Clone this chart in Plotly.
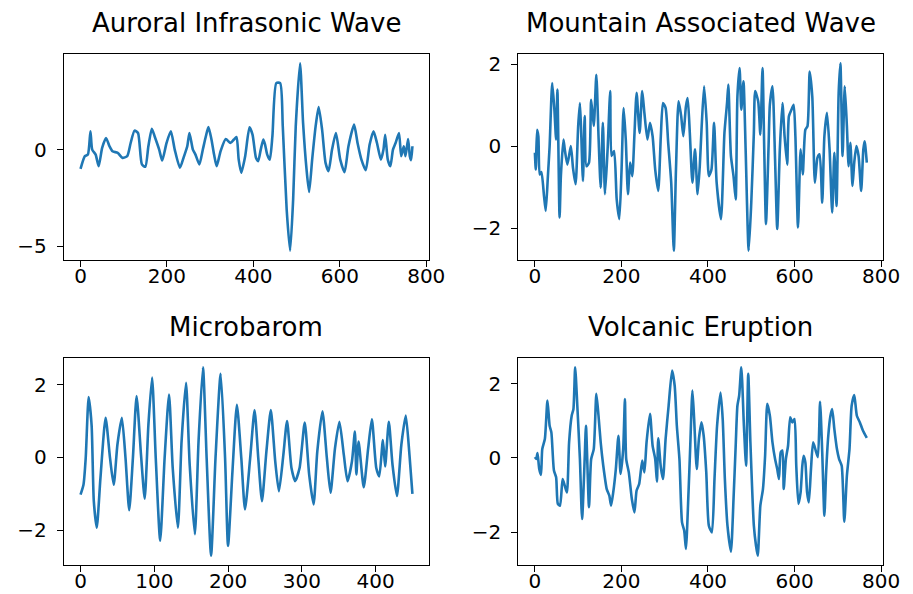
import plotly.graph_objects as go

# ---------------------------------------------------------------------------
# data (sample index, amplitude)

auroral_x = [0, 10, 17, 23, 27, 35, 42, 50, 59, 67, 74, 86, 97, 108, 116, 125, 133, 142, 150, 157,
             165, 172, 182, 189, 199, 209, 218, 230, 239, 247, 252, 260, 266, 275, 283, 290, 296,
             303, 309, 315, 324, 336, 347, 355, 361, 366, 372, 381, 391, 398, 406, 411, 417, 423,
             427, 432, 438, 444, 453, 462, 468, 477, 485, 492, 498, 508, 515, 523, 529, 536, 544,
             551, 559, 567, 574, 582, 591, 601, 611, 620, 633, 641, 650, 660, 669, 678, 686, 695,
             701, 705, 711, 717, 723, 729, 737, 742, 748, 752, 758, 762, 765, 768]
auroral_y = [-1.0, -0.34, -0.26, 0.95, 0.0, -0.26, -0.86, 0.09, 0.6, 0.17, -0.09, -0.17, -0.43,
             -0.34, 0.34, 0.98, 0.86, -0.77, -0.89, 0.17, 1.08, 0.65, 0.0, -0.57, 0.34, 0.95, 0.0,
             -0.94, -0.38, 0.17, 0.86, 0.0, -0.26, -0.77, 0.0, 0.69, 1.17, 0.52, -0.26, -0.86, -0.09,
             0.55, 0.34, 0.52, 0.65, -0.52, -1.2, -0.34, 1.15, 0.77, -0.43, -0.6, 0.0, 0.52, 0.26,
             -0.26, -0.52, 0.69, 3.44, 3.44, 1.2, -3.1, -5.24, -2.58, 1.2, 4.47, 1.37, -1.03, -2.2,
             -0.52, 1.2, 2.2, 1.03, -0.69, -1.12, 0.0, 0.86, -0.52, -1.17, 0.17, 1.29, 0.34, -0.52,
             -1.07, 0.26, 0.95, 0.34, -0.52, 0.0, 0.77, -0.52, -0.86, 0.0, 0.34, 0.86, -0.34, 0.17,
             -0.34, 0.55, -0.34, -0.55, 0.17]

mountain_x = [0, 2, 5, 8, 11, 15, 21, 25, 30, 34, 40, 45, 49, 52, 57, 60, 66, 69, 75, 83, 88, 94,
              100, 104, 107, 111, 115, 119, 125, 130, 136, 142, 147, 152, 157, 162, 168, 174, 177,
              183, 189, 195, 200, 205, 210, 215, 220, 225, 230, 235, 242, 248, 253, 260, 266, 272,
              278, 285, 291, 296, 302, 308, 315, 321, 326, 332, 338, 343, 349, 353, 358, 364, 370,
              376, 381, 385, 391, 397, 402, 408, 414, 420, 430, 438, 444, 447, 453, 459, 464, 468,
              473, 477, 482, 487, 494, 500, 506, 509, 516, 521, 526, 530, 534, 540, 543, 549, 555,
              560, 566, 572, 577, 583, 587, 593, 598, 602, 608, 614, 619, 625, 630, 635, 641, 647,
              653, 658, 664, 669, 675, 681, 687, 692, 697, 702, 706, 711, 716, 721, 725, 729, 734,
              738, 743, 748, 754, 759, 762, 767]
mountain_y = [-0.16, -0.57, 0.4, 0.24, -0.69, -0.63, -1.21, -1.58, -0.73, 0.0, 1.54, 0.89, 0.16,
              1.38, -1.74, -0.73, 0.16, -0.08, -0.45, 0.0, -0.53, -0.93, 0.49, 1.05, 0.32, -0.85,
              0.73, -0.49, -0.4, 1.13, 0.49, 1.74, 0.24, -1.01, 0.57, -1.17, -0.08, 1.34, -0.24,
              -0.12, -1.3, -1.78, -0.65, 0.93, 0.16, -1.17, -0.4, -0.73, 0.28, 1.3, 0.32, 1.34, 0.81,
              0.16, 0.57, 0.24, -0.57, -1.09, 0.24, 1.05, 0.93, 0.08, -0.89, -2.55, -0.57, 1.09,
              0.73, 0.24, 0.97, 1.17, 0.32, -0.89, -0.08, -1.17, -0.49, 0.4, 1.46, 0.57, -0.73,
              -0.57, 0.57, -0.89, -1.78, 0.32, 1.05, 1.5, -0.24, -0.73, -1.3, 1.21, 1.9, 0.89, 1.58,
              -0.08, -2.55, -1.38, 0.32, 1.34, 1.09, 0.28, 1.9, -0.08, -1.9, 0.0, 1.01, 1.46, -0.32,
              -2.02, -0.08, 1.05, 0.24, -0.45, 0.73, 0.89, 1.01, 0.24, -1.98, -0.08, -0.69, 0.4,
              0.49, 1.82, 1.21, -0.89, -0.28, -0.2, -1.38, 0.24, 0.81, -0.08, -1.62, -0.16, -1.46,
              1.3, 2.02, -0.24, 1.46, 0.49, -0.49, 0.08, -0.97, -0.4, 0.0, -0.24, -1.09, -0.08,
              0.12, -0.4]

microbarom_x = [0, 4, 7, 11, 15, 18, 22, 27, 34, 40, 45, 50, 56, 61, 66, 71, 76, 82, 87, 92, 97,
                102, 108, 114, 120, 125, 132, 137, 143, 148, 155, 160, 166, 171, 177, 183, 190,
                196, 200, 206, 212, 218, 223, 230, 236, 241, 246, 252, 258, 264, 269, 275, 280,
                286, 291, 297, 304, 310, 316, 321, 328, 334, 339, 345, 351, 357, 362, 368, 372,
                374, 377, 384, 390, 395, 401, 405, 410, 413, 418, 423, 429, 435, 441, 446, 450]
microbarom_y = [-1.02, -0.75, -0.02, 1.66, 0.89, -1.2, -1.93, -0.56, 1.09, -0.02, -0.75, 0.35,
                1.09, -0.02, -1.45, -0.02, 1.69, 0.07, -1.13, 0.89, 2.2, -0.02, -2.29, -0.02,
                1.73, -0.29, -1.93, 0.44, 2.05, -0.2, -2.11, 0.44, 2.48, -0.02, -2.7, -0.02, 2.3,
                -0.02, -2.43, -0.38, 1.45, -0.02, -1.43, -0.02, 1.3, -0.02, -1.2, 0.16, 1.3, -0.11,
                -0.93, 0.07, 1.0, -0.29, -0.65, -0.29, 0.96, -0.47, -1.29, 0.16, 1.27, -0.02,
                -0.97, 0.25, 0.98, 0.07, -0.65, -0.11, 0.71, -0.47, 0.44, -0.82, 0.25, 1.05, -0.29,
                -0.52, 0.48, -0.25, 0.98, -0.2, -1.06, 0.35, 1.15, 0.07, -1.0]

volcanic_x = [0, 3, 6, 10, 14, 17, 23, 29, 34, 38, 44, 49, 53, 58, 64, 69, 74, 79, 85, 89, 93, 98,
              104, 109, 115, 118, 125, 130, 136, 142, 147, 152, 158, 166, 172, 176, 181, 187, 193,
              198, 204, 208, 211, 217, 224, 230, 235, 241, 248, 253, 258, 266, 272, 278, 282, 285,
              291, 296, 302, 309, 317, 323, 328, 334, 340, 345, 349, 355, 359, 364, 368, 374, 379,
              385, 390, 396, 402, 409, 415, 421, 429, 434, 439, 445, 453, 459, 464, 468, 472, 477,
              483, 488, 493, 498, 506, 511, 515, 521, 527, 532, 537, 543, 549, 555, 560, 564, 568,
              572, 575, 580, 585, 590, 595, 600, 604, 609, 614, 618, 621, 625, 629, 633, 638, 643,
              649, 654, 659, 664, 669, 673, 678, 683, 687, 692, 698, 703, 709, 715, 721, 727, 732,
              738, 744, 751, 758, 767]
volcanic_y = [0.02, -0.03, 0.13, -0.3, -0.46, 0.24, 0.51, 1.55, 0.87, 0.69, -0.34, -0.52, -1.24,
              -1.29, -0.57, -0.75, -0.93, 0.42, 1.14, 1.32, 2.45, 1.41, -0.03, -1.65, -0.03, 0.87,
              -1.33, -0.03, 0.24, 1.73, 1.14, 0.42, -0.21, -0.84, -1.02, -1.29, -0.93, -0.3, 0.6,
              -0.43, 0.24, 1.59, -0.03, -0.39, -1.11, -1.47, -0.88, -0.7, -0.07, -0.39, 0.42, 1.19,
              0.33, -0.03, -0.64, 0.53, -0.25, -0.57, 0.51, 1.41, 2.36, 1.95, 0.87, -0.03, -1.74,
              -1.96, -2.46, -0.93, 0.33, 1.82, 1.05, -0.3, 0.51, 0.96, 0.6, -0.39, -1.83, -2.01,
              -0.57, 0.87, 1.77, 1.05, -0.57, -1.83, -2.53, -1.11, 0.33, 1.41, 1.68, 2.45, 0.87,
              -0.21, 2.27, 0.42, -1.83, -2.37, -2.64, -1.29, -0.84, 0.06, 1.46, 1.14, 0.42, -0.03,
              -0.3, -0.57, 0.15, 0.2, -0.84, -0.03, 0.33, 1.1, 0.96, 1.05, -0.21, -1.24, -0.93,
              -0.21, 0.06, -0.12, -0.93, -1.2, -0.3, 0.42, 0.2, 0.02, 1.52, 0.15, -1.56, -0.39, 0.6,
              1.14, 1.32, 0.78, 0.24, -0.03, -0.21, -1.72, -0.48, 0.24, 1.41, 1.7, 1.14, 0.96, 0.74,
              0.54]

titles = ["Auroral Infrasonic Wave", "Mountain Associated Wave", "Microbarom", "Volcanic Eruption"]
series = [(auroral_x, auroral_y), (mountain_x, mountain_y),
          (microbarom_x, microbarom_y), (volcanic_x, volcanic_y)]
x_ticks = [[0, 200, 400, 600, 800], [0, 200, 400, 600, 800],
           [0, 100, 200, 300, 400], [0, 200, 400, 600, 800]]
y_ticks = [[-5, 0], [-2, 0, 2], [-2, 0, 2], [-2, 0, 2]]

# ---------------------------------------------------------------------------

W, H = 913, 594
cols = [(57, 429), (520, 892)]
rows = [(44, 251), (349, 557)]


def pad(vals):
    lo, hi = min(vals), max(vals)
    m = (hi - lo) * 0.05
    return [lo - m, hi + m]


fig = go.Figure()
font = dict(family="DejaVu Sans", color="black")

for i, (xs, ys) in enumerate(series):
    r, c = divmod(i, 2)
    n = "" if i == 0 else str(i + 1)
    fig.add_trace(go.Scatter(x=xs, y=ys, mode="lines", xaxis="x" + n, yaxis="y" + n,
                             line=dict(color="#1f77b4", width=2.6, shape="spline", smoothing=0.6),
                             showlegend=False, hoverinfo="skip"))
    axis = dict(showline=True, mirror=True, linecolor="black", linewidth=1.2,
                ticks="outside", ticklen=6, tickwidth=1.2, tickcolor="black",
                showgrid=False, zeroline=False, tickfont=dict(size=20, **font))
    fig.layout["xaxis" + n] = dict(axis, domain=[cols[c][0] / W, cols[c][1] / W],
                                   range=pad(xs), tickvals=x_ticks[i], anchor="y" + n,
                                   ticklabelstandoff=-8)
    fig.layout["yaxis" + n] = dict(axis, domain=[1 - rows[r][1] / H, 1 - rows[r][0] / H],
                                   range=pad(ys), tickvals=y_ticks[i], anchor="x" + n,
                                   ticklabelstandoff=6)
    fig.add_annotation(text=titles[i], xref="paper", yref="paper",
                       x=(cols[c][0] + cols[c][1]) / 2 / W, y=1 - (rows[r][0] - 31) / H,
                       xanchor="center", yanchor="middle", showarrow=False,
                       font=dict(size=26, **font))

fig.update_layout(width=W, height=H, margin=dict(l=0, r=0, t=0, b=0),
                  paper_bgcolor="white", plot_bgcolor="white")

fig.write_html("out.html")
